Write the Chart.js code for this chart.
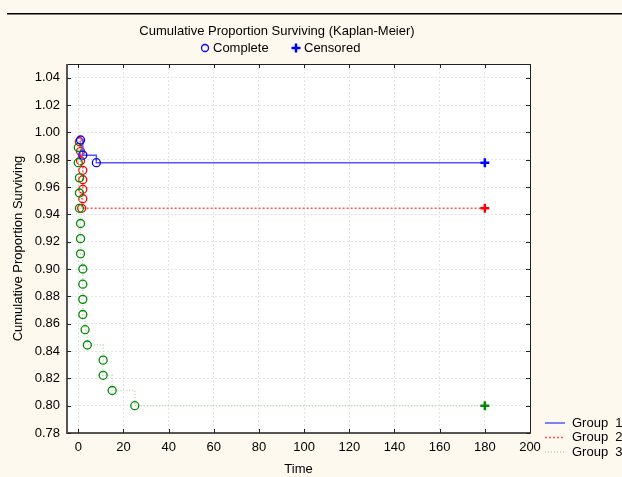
<!DOCTYPE html>
<html>
<head>
<meta charset="utf-8">
<script src="https://cdn.jsdelivr.net/npm/chart.js@4.4.0/dist/chart.umd.min.js"></script>
<style>
  html, body { margin: 0; padding: 0; background: #fdf9ee; }
</style>
</head>
<body>
<canvas id="myChart" width="622" height="477"></canvas>
<script>
// values (Kaplan-Meier estimates)
const groupNames = ['Group  1', 'Group  2', 'Group  3'];

const group1Time = [1, 2, 8, 180];
const group1Surv = [0.9944, 0.9833, 0.9778, 0.9778];
const group1Censored = [false, false, false, true];

const group2Time = [0.5, 1, 1, 2, 2, 2, 2, 1.5, 180];
const group2Surv = [0.9931, 0.9861, 0.9792, 0.9722, 0.9653, 0.9583, 0.9514, 0.9444, 0.9444];
const group2Censored = [false, false, false, false, false, false, false, false, true];

const group3Time = [0, 0, 0.5, 0.5, 0.5, 1, 1, 1, 2, 2, 2, 2, 3, 4, 11, 11, 15, 25, 180];
const group3Surv = [0.9889, 0.9778, 0.9667, 0.9556, 0.9444, 0.9333, 0.9222, 0.9111, 0.9000,
  0.8889, 0.8778, 0.8667, 0.8556, 0.8444, 0.8333, 0.8222, 0.8111, 0.8000, 0.8000];
const group3Censored = group3Time.map((t, i) => i === group3Time.length - 1);

const xTickStep = 20;
const yTickStep = 0.02;

const FONT = "'Liberation Sans', Arial, sans-serif";

const makeSet = (label, times, surv, censored, markColor, lineColor, dash, order) => ({
  label: label,
  data: times.map((t, i) => ({ x: t, y: surv[i] })),
  showLine: true,
  stepped: true,
  borderColor: lineColor,
  borderWidth: 1.5,
  borderDash: dash,
  order: order,
  pointStyle: censored.map(c => c ? 'cross' : 'circle'),
  pointRadius: censored.map(c => c ? 4.5 : 4),
  pointBorderWidth: censored.map(c => c ? 2.5 : 1.3),
  pointBorderColor: markColor,
  pointBackgroundColor: 'rgba(0,0,0,0)',
});

const datasets = [
  makeSet(groupNames[0], group1Time, group1Surv, group1Censored, '#0000ff', '#5555ff', [], 0),
  makeSet(groupNames[1], group2Time, group2Surv, group2Censored, '#ff0000', '#ff5555', [2, 2], 2),
  makeSet(groupNames[2], group3Time, group3Surv, group3Censored, '#008a00', '#b5deb5', [1, 2], 1),
];

const frame = {
  id: 'frame',
  beforeDraw(chart) {
    const { ctx, chartArea: { left, top, right, bottom } } = chart;
    ctx.save();
    ctx.fillStyle = '#fdf9ee';
    ctx.fillRect(0, 0, chart.width, chart.height);
    ctx.fillStyle = '#ffffff';
    ctx.fillRect(left, top, right - left, bottom - top);
    ctx.fillStyle = '#000000';
    ctx.fillRect(7, 13, chart.width - 7, 1.5);
    ctx.restore();
  },
  afterDraw(chart) {
    const { ctx, chartArea: { left, top, right, bottom }, scales: { x, y } } = chart;
    ctx.save();
    // box
    ctx.strokeStyle = '#222222';
    ctx.lineWidth = 1;
    ctx.beginPath();
    ctx.moveTo(left, top + 0.5);
    ctx.lineTo(right + 0.5, top + 0.5);
    ctx.lineTo(right + 0.5, bottom);
    ctx.stroke();
    ctx.strokeStyle = '#555555';
    ctx.lineWidth = 2;
    ctx.beginPath();
    ctx.moveTo(left, top);
    ctx.lineTo(left, bottom);
    ctx.lineTo(right + 1, bottom);
    ctx.stroke();
    // inward ticks
    ctx.strokeStyle = '#222222';
    ctx.lineWidth = 1;
    ctx.beginPath();
    x.ticks.forEach(t => {
      const px = Math.round(x.getPixelForValue(t.value)) + 0.5;
      ctx.moveTo(px, bottom); ctx.lineTo(px, bottom - 4);
      ctx.moveTo(px, top); ctx.lineTo(px, top + 4);
    });
    y.ticks.forEach(t => {
      const py = Math.round(y.getPixelForValue(t.value)) + 0.5;
      ctx.moveTo(left, py); ctx.lineTo(left + 4, py);
      ctx.moveTo(right, py); ctx.lineTo(right - 4, py);
    });
    ctx.stroke();

    // title and marker legend
    ctx.fillStyle = '#000000';
    ctx.font = '13px ' + FONT;
    ctx.textBaseline = 'middle';
    ctx.textAlign = 'center';
    ctx.fillText('Cumulative Proportion Surviving (Kaplan-Meier)', 277, 31);
    ctx.textAlign = 'left';
    ctx.strokeStyle = '#0000ff';
    ctx.lineWidth = 1.3;
    ctx.beginPath();
    ctx.arc(205, 48, 3.5, 0, Math.PI * 2);
    ctx.stroke();
    ctx.fillText('Complete', 213, 48);
    ctx.lineWidth = 2.5;
    ctx.beginPath();
    ctx.moveTo(291.5, 48); ctx.lineTo(300.5, 48);
    ctx.moveTo(296, 43.5); ctx.lineTo(296, 52.5);
    ctx.stroke();
    ctx.fillText('Censored', 304, 48);

    // group legend
    const rowY = [423, 437.5, 452];
    chart.data.datasets.forEach((ds, i) => {
      ctx.strokeStyle = i === 2 ? '#a8d8a8' : ds.borderColor;
      ctx.lineWidth = 1.5;
      ctx.setLineDash(ds.borderDash);
      ctx.beginPath();
      ctx.moveTo(545, rowY[i]);
      ctx.lineTo(565, rowY[i]);
      ctx.stroke();
      ctx.setLineDash([]);
      ctx.fillText(ds.label, 572, rowY[i]);
    });
    ctx.restore();
  }
};

const config = {
  type: 'scatter',
  data: { datasets: datasets },
  options: {
    responsive: false,
    animation: false,
    layout: { padding: { top: 64, right: 92, left: 0, bottom: 0 } },
    scales: {
      x: {
        type: 'linear',
        min: -5,
        max: 200,
        afterFit(scale) { scale.height = 44; },
        ticks: {
          stepSize: xTickStep,
          includeBounds: false,
          padding: 7,
          color: '#000000',
          font: { family: FONT, size: 13 },
        },
        grid: { color: '#e4e4e4', drawTicks: false },
        border: { display: false, dash: [2, 2] },
        title: {
          display: true,
          text: 'Time',
          color: '#000000',
          font: { family: FONT, size: 13 },
          padding: { top: 0, bottom: 0 },
        },
      },
      y: {
        type: 'linear',
        min: 0.78,
        max: 1.05,
        afterFit(scale) { scale.width = 67; },
        ticks: {
          stepSize: yTickStep,
          includeBounds: false,
          padding: 7,
          color: '#000000',
          font: { family: FONT, size: 13 },
          callback: (v) => v.toFixed(2),
        },
        grid: { color: '#e4e4e4', drawTicks: false },
        border: { display: false, dash: [2, 2] },
        title: {
          display: true,
          text: 'Cumulative Proportion Surviving',
          color: '#000000',
          font: { family: FONT, size: 13 },
          padding: { top: 11, bottom: 0 },
        },
      },
    },
    plugins: {
      legend: { display: false },
      tooltip: { enabled: false },
    },
  },
  plugins: [frame],
};

new Chart(document.getElementById('myChart').getContext('2d'), config);
</script>
</body>
</html>
